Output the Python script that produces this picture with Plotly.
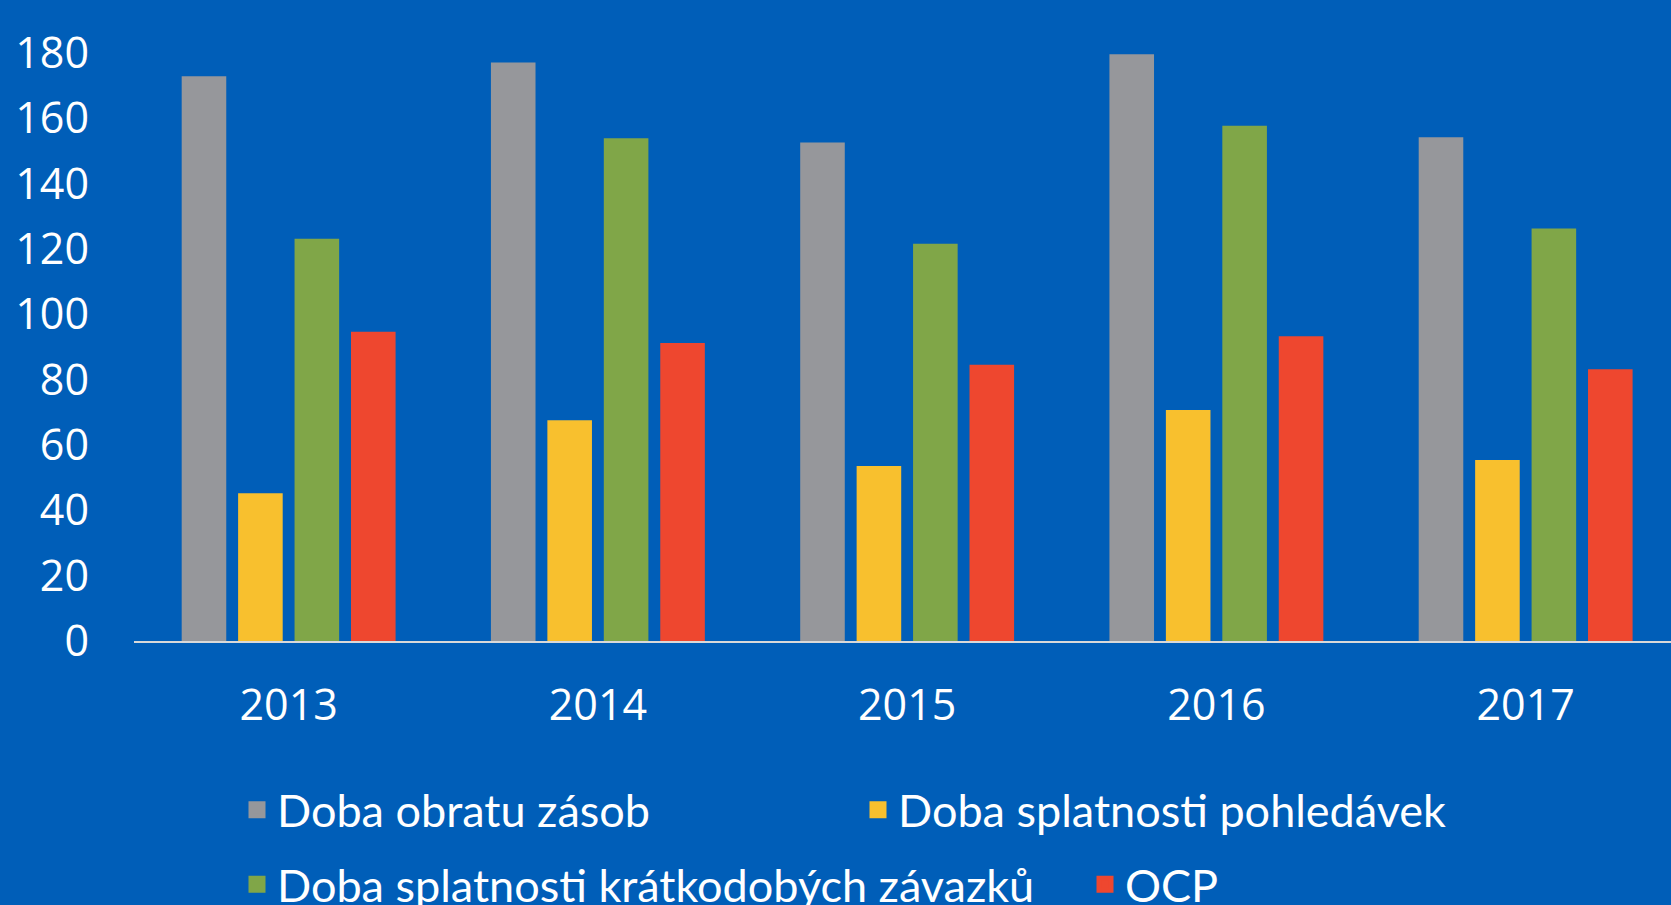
import plotly.graph_objects as go

years = ["2013", "2014", "2015", "2016", "2017"]
series_names = [
    "Doba obratu zásob",
    "Doba splatnosti pohledávek",
    "Doba splatnosti krátkodobých závazků",
    "OCP",
]
doba_obratu_zasob = [172.9, 177.1, 152.6, 179.6, 154.2]
doba_splatnosti_pohledavek = [45.2, 67.6, 53.6, 70.7, 55.4]
doba_splatnosti_kratkodobych_zavazku = [123.1, 153.9, 121.6, 157.7, 126.3]
ocp = [94.7, 91.2, 84.6, 93.3, 83.2]
y_ticks = [0, 20, 40, 60, 80, 100, 120, 140, 160, 180]

colors = ["#96979B", "#F8C02E", "#80A648", "#EE472F"]
values = [doba_obratu_zasob, doba_splatnosti_pohledavek,
          doba_splatnosti_kratkodobych_zavazku, ocp]

W, H = 1671, 905
BG = "#005EB8"

fig = go.Figure()
legend_ids = ["legend", "legend2", "legend3", "legend4"]
for i, (name, vals, col) in enumerate(zip(series_names, values, colors)):
    fig.add_trace(go.Bar(
        x=years, y=vals, name=name, marker=dict(color=col, line=dict(width=0)),
        offsetgroup=str(i), showlegend=False, hoverinfo="x+y+name",
    ))
    # legend-only entry (larger swatch)
    fig.add_trace(go.Bar(
        x=[years[0]], y=[None], name=name,
        marker=dict(color=col, line=dict(width=5, color=col)),
        offsetgroup=str(i), showlegend=True, legend=legend_ids[i],
        hoverinfo="skip",
    ))

legend_font = dict(family="Lato, Open Sans, sans-serif", size=45, color="white")
pos = [(279, 810), (900, 810), (279, 884.5), (1127, 884.5)]
leg_layout = {}
for lid, (tx, cy) in zip(legend_ids, pos):
    leg_layout[lid] = dict(
        x=(tx - 42) / W, y=(H - cy) / H, xref="container", yref="container",
        xanchor="left", yanchor="middle", bgcolor="rgba(0,0,0,0)",
        borderwidth=0, font=legend_font, orientation="h",
    )

tick_font = dict(family="Open Sans, sans-serif", size=43, color="white")
fig.update_layout(
    width=W, height=H,
    paper_bgcolor=BG, plot_bgcolor=BG,
    margin=dict(l=134, r=0, t=53, b=264, autoexpand=False),
    barmode="group", bargap=0.27, bargroupgap=0.21,
    showlegend=True,
    xaxis=dict(
        type="category", range=[-0.5, 4.47],
        showline=True, linecolor="#D9D9D9", linewidth=2,
        showgrid=False, ticks="", tickfont=tick_font, ticklabelstandoff=25,
        fixedrange=True,
    ),
    yaxis=dict(
        range=[0, 180], tickvals=y_ticks, showgrid=False, zeroline=False,
        showline=False, ticks="", tickfont=tick_font, ticklabelstandoff=44,
        fixedrange=True,
    ),
    **leg_layout,
)

fig.write_html(
    "out.html",
    config={"displayModeBar": False},
    post_script="document.body.style.margin='0';document.body.style.overflow='hidden';",
)
